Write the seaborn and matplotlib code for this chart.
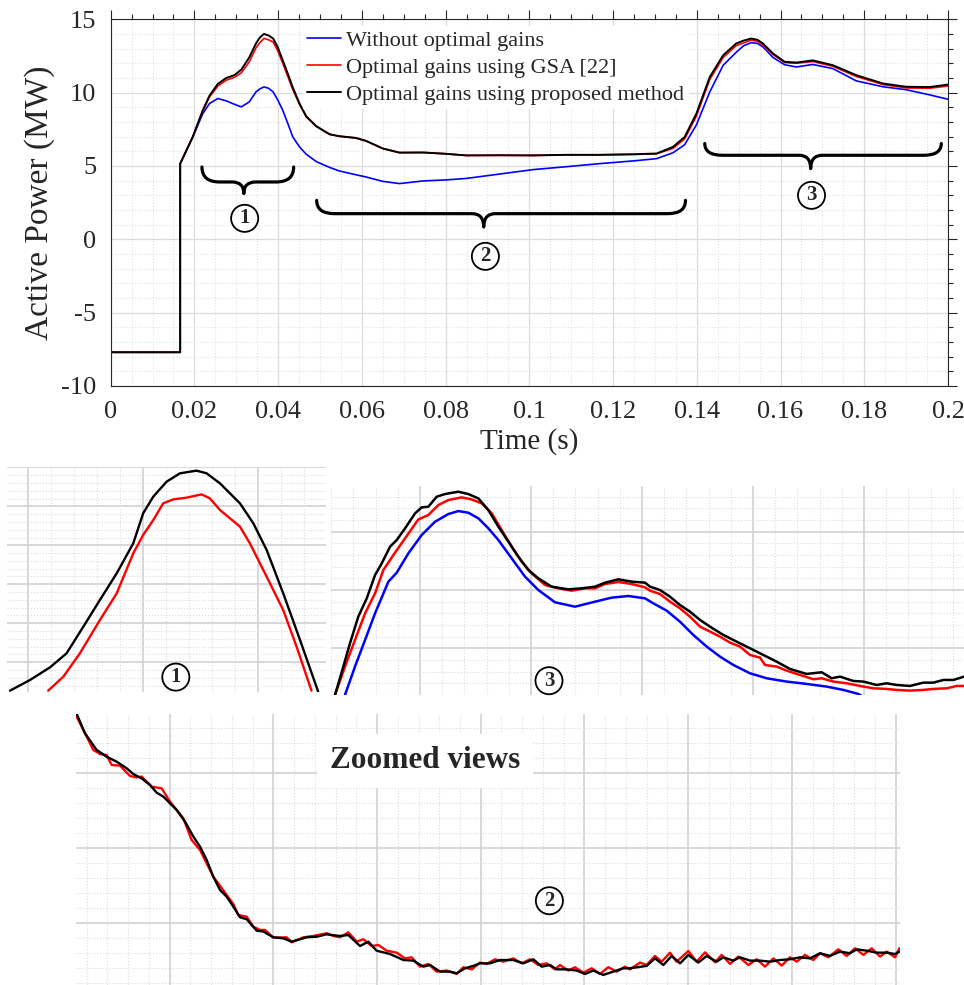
import numpy as np
import pandas as pd
import matplotlib
matplotlib.use("Agg")
import matplotlib.pyplot as plt
import seaborn as sns
from matplotlib.path import Path
from matplotlib.patches import PathPatch
from matplotlib.ticker import MultipleLocator

# ---------------- main chart data ----------------
t_main = [0, 0, 0.0166, 0.0166, 0.0196, 0.022, 0.0236, 0.0256, 0.0276, 0.0296, 0.0312, 0.0331,
          0.0347, 0.0356, 0.0366, 0.0377, 0.0388, 0.0399, 0.0411, 0.0423, 0.0435, 0.0451, 0.0467,
          0.0491, 0.0523, 0.0546, 0.0586,
          0.061, 0.065, 0.069, 0.0746, 0.0801, 0.0849, 0.0929, 0.1008, 0.1088, 0.1168, 0.125,
          0.1304, 0.1343, 0.1371, 0.1399, 0.1431, 0.1463, 0.1494, 0.1512, 0.153, 0.1545, 0.1558,
          0.1582, 0.161, 0.1638, 0.1677, 0.1725, 0.1781, 0.1845, 0.19, 0.1956, 0.2]
p_without = [0, -7.7, -7.7, 5.16, 6.98, 8.57, 9.26, 9.6, 9.44, 9.2, 9.03, 9.37,
             10.05, 10.25, 10.39, 10.3, 10.05, 9.5, 8.8, 7.9, 6.98, 6.3, 5.8,
             5.3, 4.9, 4.66, 4.4,
             4.25, 3.95, 3.8, 3.98, 4.05, 4.15, 4.45, 4.75, 4.95, 5.16, 5.35,
             5.5, 5.9, 6.45, 7.8, 10.05, 11.87, 12.75, 13.2, 13.41, 13.35, 13.12,
             12.4, 11.9, 11.75, 11.92, 11.64, 10.8, 10.4, 10.2, 9.85, 9.55]
p_gsa = [0, -7.7, -7.7, 5.16, 6.98, 8.75, 9.7, 10.45, 10.85, 11.05, 11.35, 12.1,
         13.05, 13.4, 13.7, 13.6, 13.45, 12.85, 12.0, 11.1, 10.2, 9.2, 8.35,
         7.7, 7.16, 7.03, 6.91,
         6.71, 6.19, 5.91, 5.92, 5.83, 5.72, 5.73, 5.72, 5.76, 5.76, 5.79,
         5.83, 6.2, 6.85, 8.4, 10.9, 12.4, 13.2, 13.4, 13.58, 13.5, 13.25,
         12.6, 12.05, 12.0, 12.12, 11.8, 11.1, 10.55, 10.32, 10.3, 10.45]
p_proposed = [0, -7.7, -7.7, 5.16, 6.98, 8.8, 9.8, 10.6, 11.0, 11.2, 11.57, 12.4,
              13.35, 13.75, 14.0, 13.9, 13.69, 13.1, 12.2, 11.3, 10.35, 9.26, 8.39,
              7.71, 7.16, 7.03, 6.91,
              6.71, 6.19, 5.91, 5.92, 5.83, 5.72, 5.73, 5.72, 5.76, 5.76, 5.8,
              5.85, 6.3, 6.98, 8.57, 11.07, 12.55, 13.35, 13.55, 13.69, 13.6, 13.35,
              12.67, 12.1, 12.05, 12.2, 11.87, 11.19, 10.62, 10.4, 10.38, 10.55]

series_names = ["Without optimal gains", "Optimal gains using GSA [22]",
                "Optimal gains using proposed method"]
series_colors = ["#0000ff", "#ff0000", "#000000"]

x_ticks = [0, 0.02, 0.04, 0.06, 0.08, 0.1, 0.12, 0.14, 0.16, 0.18, 0.2]
x_ticklabels = ["0", "0.02", "0.04", "0.06", "0.08", "0.1", "0.12", "0.14", "0.16", "0.18", "0.2"]
y_ticks = [-10, -5, 0, 5, 10, 15]
y_ticklabels = ["-10", "-5", "0", "5", "10", "15"]

# region braces (annotation geometry, data units) and labels
brace_x0 = [0.0218, 0.0492, 0.1419]
brace_x1 = [0.0437, 0.1373, 0.1984]
brace_xm = [0.0318, 0.0891, 0.1672]
brace_yend = [4.93, 2.66, 6.53]
brace_yline = [3.91, 1.75, 5.73]
brace_ytip = [3.12, 0.84, 4.82]
region_labels = ["1", "2", "3"]
region_label_t = [0.032, 0.0895, 0.1674]
region_label_v = [1.43, -1.16, 3.0]

# ---------------- zoomed view 1 ----------------
z1_t_proposed = [0.02922, 0.03009, 0.03096, 0.03168, 0.03241, 0.03313, 0.03386, 0.03458, 0.03501,
                 0.03545, 0.03603, 0.03661, 0.03733, 0.03777, 0.03835, 0.03922, 0.0398, 0.04038,
                 0.0411, 0.04183, 0.04262]
z1_proposed = [11.136, 11.273, 11.435, 11.615, 11.957, 12.299, 12.641, 13.025, 13.41,
               13.624, 13.816, 13.923, 13.957, 13.923, 13.794, 13.538, 13.282, 12.94,
               12.384, 11.786, 11.123]
z1_t_gsa = [0.03088, 0.03154, 0.03226, 0.03313, 0.03386, 0.03458, 0.03501, 0.03545, 0.03588,
            0.03632, 0.0369, 0.03755, 0.03791, 0.03835, 0.03922, 0.03965, 0.04038, 0.0411,
            0.04168, 0.04233]
z1_gsa = [11.136, 11.316, 11.615, 12.042, 12.384, 12.897, 13.132, 13.324, 13.538,
          13.589, 13.611, 13.653, 13.602, 13.453, 13.239, 13.025, 12.598, 12.17,
          11.701, 11.136]

# ---------------- zoomed view 3 ----------------
z3_t_proposed = [0.14234, 0.14309, 0.14369, 0.14444, 0.1452, 0.14595, 0.14655, 0.1473, 0.1479,
                 0.14865, 0.14955, 0.15015, 0.15075, 0.1515, 0.15225, 0.15345, 0.15435, 0.15526,
                 0.15616, 0.15706, 0.15796, 0.15886, 0.15976, 0.16066, 0.16186, 0.16336, 0.16456,
                 0.16577, 0.16667, 0.16787, 0.16907, 0.17027, 0.17072, 0.17162, 0.17252, 0.17342,
                 0.17432, 0.17523, 0.17613, 0.17733, 0.17853, 0.17973, 0.18093, 0.18213, 0.18333,
                 0.18483, 0.18619, 0.18709, 0.18784, 0.18904, 0.18994, 0.19114, 0.19204, 0.19294,
                 0.19414, 0.19535, 0.19625, 0.19715, 0.19805, 0.19901]
z3_proposed = [10.2, 10.686, 11.086, 11.543, 11.857, 12.257, 12.457, 12.743, 12.857,
               13.057, 13.314, 13.417, 13.429, 13.6, 13.646, 13.686, 13.646, 13.571,
               13.371, 13.086, 12.829, 12.571, 12.343, 12.2, 12.057, 12.011, 12.029,
               12.057, 12.126, 12.183, 12.143, 12.126, 12.057, 12.0, 11.886, 11.743,
               11.629, 11.486, 11.371, 11.229, 11.114, 11.0, 10.886, 10.771, 10.646,
               10.56, 10.589, 10.486, 10.514, 10.44, 10.429, 10.371, 10.4, 10.371,
               10.354, 10.411, 10.411, 10.457, 10.457, 10.514]
z3_t_gsa = [0.14234, 0.14324, 0.14414, 0.14505, 0.14595, 0.1467, 0.1476, 0.14865, 0.14985,
            0.15075, 0.15165, 0.15255, 0.15375, 0.15465, 0.15556, 0.15646, 0.15736, 0.15826,
            0.15916, 0.16006, 0.16126, 0.16246, 0.16366, 0.16486, 0.16577, 0.16667, 0.16787,
            0.16907, 0.17027, 0.17072, 0.17162, 0.17252, 0.17342, 0.17432, 0.17523, 0.17613,
            0.17703, 0.17793, 0.17883, 0.17973, 0.18063, 0.18108, 0.18213, 0.18303, 0.18423,
            0.18544, 0.18619, 0.18724, 0.18844, 0.18964, 0.19084, 0.19204, 0.19294, 0.19414,
            0.19535, 0.19625, 0.19745, 0.19835, 0.19901]
z3_gsa = [10.2, 10.686, 11.143, 11.6, 11.943, 12.343, 12.6, 12.886, 13.211,
          13.286, 13.457, 13.543, 13.589, 13.554, 13.486, 13.314, 13.029, 12.743,
          12.486, 12.286, 12.086, 12.029, 11.989, 12.029, 12.029, 12.103, 12.137,
          12.103, 12.046, 11.989, 11.931, 11.8, 11.686, 11.543, 11.371, 11.286,
          11.2, 11.097, 11.029, 10.886, 10.84, 10.714, 10.686, 10.617, 10.543,
          10.469, 10.486, 10.429, 10.4, 10.354, 10.314, 10.303, 10.286, 10.274,
          10.286, 10.303, 10.314, 10.354, 10.354]
z3_t_without = [0.14324, 0.14414, 0.14505, 0.14595, 0.14715, 0.1479, 0.14895, 0.15015, 0.15135,
                0.15255, 0.15345, 0.15435, 0.15526, 0.15616, 0.15706, 0.15826, 0.15946, 0.16066,
                0.16216, 0.16396, 0.16577, 0.16727, 0.16877, 0.17027, 0.17102, 0.17222, 0.17342,
                0.17462, 0.17583, 0.17703, 0.17823, 0.17973, 0.18123, 0.18303, 0.18483, 0.18664,
                0.18814, 0.18949, 0.1905]
z3_without = [10.2, 10.686, 11.143, 11.6, 12.143, 12.297, 12.629, 12.943, 13.171,
              13.303, 13.354, 13.326, 13.229, 13.057, 12.857, 12.543, 12.229, 12.0,
              11.789, 11.714, 11.8, 11.869, 11.897, 11.857, 11.771, 11.646, 11.457,
              11.229, 11.029, 10.857, 10.714, 10.571, 10.486, 10.429, 10.389, 10.343,
              10.286, 10.217, 10.1]

# ---------------- zoomed view 2 ----------------
z2_t_proposed = [0.05104, 0.05184, 0.05296, 0.05393, 0.05489, 0.05586, 0.0565, 0.0573, 0.05811,
                 0.05875, 0.05939, 0.06004, 0.06068, 0.06148, 0.06229, 0.06293, 0.06357, 0.06421,
                 0.06486, 0.0655, 0.06614, 0.06679, 0.06743, 0.06791, 0.06839, 0.06904, 0.07,
                 0.07096, 0.07177, 0.07257, 0.07321, 0.07418, 0.07514, 0.07611,
                 0.07643, 0.07723, 0.07836, 0.07916, 0.07996, 0.08125, 0.08254, 0.0835, 0.08446,
                 0.08511, 0.08607, 0.08704, 0.08768, 0.08848, 0.08929, 0.08993, 0.09089, 0.09186,
                 0.09314, 0.09411, 0.09507, 0.09588, 0.09668, 0.09732, 0.09829, 0.09925, 0.10005,
                 0.10086, 0.10182, 0.10279, 0.10375, 0.10439,
                 0.106, 0.1068, 0.10761, 0.10841, 0.10922, 0.11002, 0.11098, 0.11179, 0.11275,
                 0.11339, 0.11436, 0.115, 0.11597, 0.11693, 0.1179, 0.11886, 0.11982, 0.12079,
                 0.12175, 0.12272, 0.12368, 0.12464, 0.12561, 0.12625, 0.12722, 0.12818, 0.12915,
                 0.12995, 0.13037]
z2_proposed = [7.391, 7.262, 7.152, 7.107, 7.074, 7.03, 6.992, 6.963, 6.919,
               6.868, 6.842, 6.797, 6.753, 6.676, 6.576, 6.509, 6.421, 6.31,
               6.221, 6.177, 6.111, 6.04, 6.027, 5.989, 5.951, 5.945, 5.907,
               5.9, 5.878, 5.894, 5.907, 5.911, 5.927, 5.918,
               5.916, 5.922, 5.849, 5.878, 5.818, 5.796, 5.756, 5.752, 5.712,
               5.723, 5.679, 5.679, 5.668, 5.701, 5.717, 5.734, 5.734, 5.756,
               5.756, 5.734, 5.761, 5.712, 5.723, 5.694, 5.694, 5.686, 5.663,
               5.686, 5.657, 5.679, 5.701, 5.701,
               5.717, 5.767, 5.723, 5.783, 5.734, 5.79, 5.739, 5.783, 5.745,
               5.774, 5.752, 5.774, 5.752, 5.752, 5.745, 5.756, 5.761, 5.774,
               5.767, 5.801, 5.783, 5.812, 5.801, 5.827, 5.818, 5.805, 5.805,
               5.796, 5.812]
z2_t_gsa = [0.05104, 0.05168, 0.05264, 0.05329, 0.05393, 0.05441, 0.05521, 0.05618, 0.05682,
            0.0573, 0.05827, 0.05923, 0.06004, 0.06132, 0.06212, 0.06293, 0.06421, 0.0655,
            0.06614, 0.06662, 0.06743, 0.06807, 0.06871, 0.0692, 0.07, 0.07129, 0.07177,
            0.07289, 0.07386, 0.07514, 0.07579,
            0.07643, 0.07723, 0.07804, 0.07868, 0.07948, 0.08013, 0.08093, 0.08189, 0.0827,
            0.08334, 0.08414, 0.08495, 0.08575, 0.08672, 0.08768, 0.08832, 0.08913, 0.08993,
            0.09057, 0.09138, 0.09218, 0.09314, 0.09395, 0.09475, 0.09555, 0.09636, 0.09716,
            0.09764, 0.09845, 0.09909, 0.09989, 0.1007, 0.1015, 0.1023, 0.10311, 0.10391,
            0.10439, 0.10536, 0.106, 0.1068, 0.10745, 0.10825, 0.10889, 0.11002, 0.11082,
            0.11163, 0.11259, 0.11323, 0.11404, 0.11484, 0.11581, 0.11661, 0.11741, 0.11822,
            0.11902, 0.11982, 0.12047, 0.12127, 0.12207, 0.12272, 0.12352, 0.12448, 0.12529,
            0.12609, 0.1269, 0.1277, 0.1285, 0.12915, 0.12995, 0.13037]
z2_gsa = [7.373, 7.285, 7.152, 7.125, 7.118, 7.052, 7.048, 6.979, 6.97,
          6.975, 6.908, 6.897, 6.808, 6.698, 6.554, 6.487, 6.31, 6.188,
          6.128, 6.055, 6.044, 5.978, 5.956, 5.956, 5.905, 5.907, 5.874,
          5.907, 5.916, 5.934, 5.916,
          5.907, 5.94, 5.878, 5.894, 5.849, 5.856, 5.818, 5.805, 5.767,
          5.774, 5.712, 5.73, 5.679, 5.686, 5.663, 5.708, 5.694, 5.739,
          5.73, 5.761, 5.745, 5.767, 5.734, 5.761, 5.723, 5.734, 5.694,
          5.723, 5.686, 5.708, 5.672, 5.701, 5.663, 5.708, 5.679, 5.712,
          5.694, 5.739, 5.723, 5.783, 5.745, 5.805, 5.745, 5.816, 5.745,
          5.807, 5.741, 5.79, 5.73, 5.779, 5.723, 5.761, 5.712, 5.767,
          5.719, 5.774, 5.745, 5.79, 5.756, 5.801, 5.774, 5.827, 5.783,
          5.834, 5.79, 5.834, 5.779, 5.812, 5.774, 5.834]

# ---------------- styling ----------------
sns.set_style("white")
plt.rcParams["font.family"] = ["Liberation Serif", "DejaVu Serif"]
plt.rcParams["axes.unicode_minus"] = False

W, H = 964, 985
fig = plt.figure(figsize=(W / 100, H / 100), dpi=100)
TXT = "#262626"


def px_rect(x0, y0, x1, y1):
    return [x0 / W, 1 - y1 / H, (x1 - x0) / W, (y1 - y0) / H]


def draw_line(ax, t, v, color, lw, label=None):
    df = pd.DataFrame({"t": t, "v": v})
    sns.lineplot(data=df, x="t", y="v", ax=ax, color=color, lw=lw,
                 estimator=None, sort=False, label=label, legend=label is not None)


def circled(ax, x, y, s, fs=15):
    ax.text(x, y, s, ha="center", va="center", fontsize=fs, fontweight="bold",
            bbox=dict(boxstyle="circle,pad=0.17", fc="white", ec="black", lw=1.3), zorder=6)


def brace(ax, x0, x1, xm, ye, yl, yt, re=0.0042, rt=0.0028):
    verts = [(x0, ye), (x0, yl), (x0 + re, yl), (xm - rt, yl), (xm, yl), (xm, yt),
             (xm, yl), (xm + rt, yl), (x1 - re, yl), (x1, yl), (x1, ye)]
    codes = [Path.MOVETO, Path.CURVE3, Path.CURVE3, Path.LINETO, Path.CURVE3, Path.CURVE3,
             Path.CURVE3, Path.CURVE3, Path.LINETO, Path.CURVE3, Path.CURVE3]
    ax.add_patch(PathPatch(Path(verts, codes), fill=False, ec="black", lw=2.3,
                           capstyle="round", joinstyle="round", zorder=5))


# ---------------- main axes ----------------
ax = fig.add_axes(px_rect(110.7, 19.3, 948, 386))
for vals, name, col, lw in zip([p_without, p_gsa, p_proposed], series_names, series_colors,
                               [1.2, 1.2, 1.4]):
    draw_line(ax, t_main, vals, col, lw, label=name)

ax.set_xlim(0, 0.2)
ax.set_ylim(-10, 15)
ax.set_xticks(x_ticks)
ax.set_xticklabels(x_ticklabels)
ax.set_yticks(y_ticks)
ax.set_yticklabels(y_ticklabels)
ax.xaxis.set_minor_locator(MultipleLocator(0.005))
ax.yaxis.set_minor_locator(MultipleLocator(1))
ax.grid(which="major", color="#dcdcdc", lw=0.9)
ax.grid(which="minor", color="#e2e2e2", ls=":", lw=0.8)
ax.set_axisbelow(True)
ax.tick_params(which="both", direction="out", top=True, right=True, labelsize=19,
               width=0.8, colors=TXT, pad=4)
ax.tick_params(which="major", length=6.5)
ax.tick_params(which="minor", length=3.5)
for sp in ax.spines.values():
    sp.set_visible(True)
    sp.set_color(TXT)
    sp.set_linewidth(0.8)
ax.set_xlabel("Time (s)", fontsize=21, labelpad=4, color=TXT)
ax.set_ylabel("Active Power (MW)", fontsize=24, labelpad=4, color=TXT)

for i in range(3):
    brace(ax, brace_x0[i], brace_x1[i], brace_xm[i], brace_yend[i], brace_yline[i], brace_ytip[i])
    circled(ax, region_label_t[i], region_label_v[i], region_labels[i])

handles, labels = ax.get_legend_handles_labels()
leg = ax.legend(handles, labels, loc="upper left", bbox_to_anchor=(303 / W, 1 - 26 / H),
                bbox_transform=fig.transFigure, frameon=True, fancybox=False,
                edgecolor="none", facecolor="white", framealpha=1, fontsize=16,
                handlelength=1.5, handletextpad=0.25, labelspacing=0.28, borderpad=0.2,
                borderaxespad=0)


def zoom_axes(rect, xlim, ylim, xmaj, xmin, ymaj, ymin):
    z = fig.add_axes(rect)
    z.set_xlim(*xlim)
    z.set_ylim(*ylim)
    z.xaxis.set_major_locator(MultipleLocator(xmaj))
    z.xaxis.set_minor_locator(MultipleLocator(xmin))
    z.yaxis.set_major_locator(MultipleLocator(ymaj))
    z.yaxis.set_minor_locator(MultipleLocator(ymin))
    z.grid(which="major", color="#d2d2d2", lw=1.2)
    z.grid(which="minor", color="#dcdcdc", ls=":", lw=0.8)
    z.set_axisbelow(True)
    z.tick_params(which="both", length=0, labelbottom=False, labelleft=False)
    for sp in z.spines.values():
        sp.set_visible(False)
    z.patch.set_alpha(0)
    return z


# zoomed view 1
z1 = zoom_axes(px_rect(7, 467, 326, 692), (0.02909, 0.04296), (11.119, 14.004),
               0.005, 0.001, 0.5, 0.1)
draw_line(z1, z1_t_gsa, z1_gsa, series_colors[1], 1.7)
draw_line(z1, z1_t_proposed, z1_proposed, series_colors[2], 1.7)
circled(z1, 0.03643, 11.31, "1")
z1.set_xlabel("")
z1.set_ylabel("")

# zoomed view 3
z3 = zoom_axes(px_rect(331, 486, 964, 695), (0.14198, 0.19901), (10.199, 13.784),
               0.01, 0.002, 1.0, 0.2)
draw_line(z3, z3_t_without, z3_without, series_colors[0], 1.8)
draw_line(z3, z3_t_gsa, z3_gsa, series_colors[1], 1.8)
draw_line(z3, z3_t_proposed, z3_proposed, series_colors[2], 1.8)
circled(z3, 0.16162, 10.444, "3")
z3.set_xlabel("")
z3.set_ylabel("")

# zoomed view 2
z2 = zoom_axes(px_rect(76, 714, 900, 985), (0.05097, 0.13043), (5.59, 7.391),
               0.01, 0.002, 0.5, 0.1)
draw_line(z2, z2_t_gsa, z2_gsa, series_colors[1], 1.7)
draw_line(z2, z2_t_proposed, z2_proposed, series_colors[2], 1.7)
circled(z2, 0.09662, 6.15, "2")
z2.set_xlabel("")
z2.set_ylabel("")

fig.text(425 / W, 1 - 761 / H, "Zoomed views", ha="center", va="center", fontsize=22.5,
         fontweight="bold", bbox=dict(boxstyle="square,pad=0.4", fc="white", ec="none"),
         zorder=10)

fig.savefig("out.png", dpi=100)
